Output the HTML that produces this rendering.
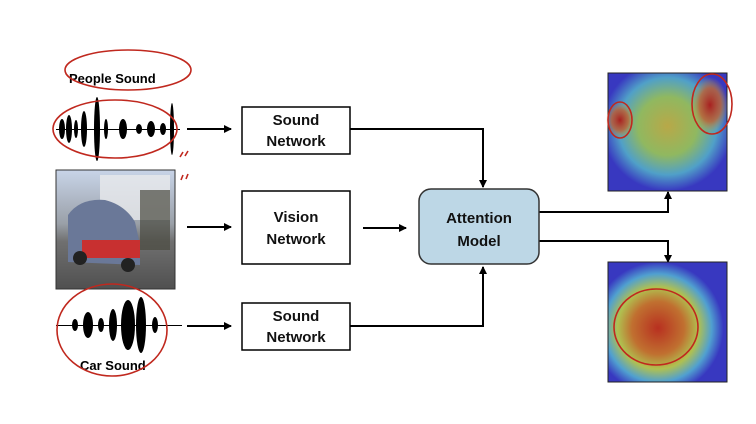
<!DOCTYPE html>
<html><head><meta charset="utf-8"><style>
html,body{margin:0;padding:0;background:#fff;}
svg{display:block;font-family:"Liberation Sans",sans-serif;}
</style></head><body>
<svg width="756" height="424" viewBox="0 0 756 424" xmlns="http://www.w3.org/2000/svg">
<defs>
<marker id="ah" markerWidth="8" markerHeight="8" refX="7" refY="4" orient="auto" markerUnits="userSpaceOnUse"><path d="M0,0 L8,4 L0,8 z" fill="#000"/></marker>
<radialGradient id="h1a" cx="0.5" cy="0.45" r="0.55"><stop offset="0" stop-color="#b8a848"/><stop offset="0.45" stop-color="#90b860"/><stop offset="0.75" stop-color="#50a0c8"/><stop offset="1" stop-color="#3838c0"/></radialGradient>
<radialGradient id="hr" cx="0.5" cy="0.5" r="0.5"><stop offset="0" stop-color="#a82020"/><stop offset="0.6" stop-color="#c06030" stop-opacity="0.8"/><stop offset="1" stop-color="#c0a040" stop-opacity="0"/></radialGradient>
<radialGradient id="h2a" cx="0.42" cy="0.55" r="0.55"><stop offset="0" stop-color="#b83020"/><stop offset="0.4" stop-color="#c07030"/><stop offset="0.62" stop-color="#b0c050"/><stop offset="0.82" stop-color="#50a0d0"/><stop offset="1" stop-color="#3838c0"/></radialGradient>
<linearGradient id="ph" x1="0" y1="0" x2="0" y2="1"><stop offset="0" stop-color="#c8d4e8"/><stop offset="0.45" stop-color="#9aa0a8"/><stop offset="0.6" stop-color="#707070"/><stop offset="1" stop-color="#505050"/></linearGradient>
</defs>

<g fill="#000">
<path d="M56,129 L180,129 L180,130 L56,130 z"/>
<ellipse cx="62" cy="129" rx="3" ry="10"/><ellipse cx="69" cy="129" rx="3" ry="14"/><ellipse cx="76" cy="129" rx="2" ry="9"/>
<ellipse cx="84" cy="129" rx="3" ry="18"/><ellipse cx="97" cy="129" rx="3" ry="32"/><ellipse cx="106" cy="129" rx="2" ry="10"/>
<ellipse cx="123" cy="129" rx="4" ry="10"/><ellipse cx="139" cy="129" rx="3" ry="5"/><ellipse cx="151" cy="129" rx="4" ry="8"/>
<ellipse cx="163" cy="129" rx="3" ry="6"/><ellipse cx="172" cy="129" rx="2" ry="26"/>
</g>
<g fill="#000">
<path d="M56,325 L182,325 L182,326 L56,326 z"/>
<ellipse cx="75" cy="325" rx="3" ry="6"/><ellipse cx="88" cy="325" rx="5" ry="13"/><ellipse cx="101" cy="325" rx="3" ry="7"/>
<ellipse cx="113" cy="325" rx="4" ry="16"/><ellipse cx="128" cy="325" rx="7" ry="25"/><ellipse cx="141" cy="325" rx="5" ry="28"/>
<ellipse cx="155" cy="325" rx="3" ry="8"/>
</g>
<text x="69" y="83" font-size="13" font-weight="bold">People Sound</text>
<text x="80" y="370" font-size="13" font-weight="bold">Car Sound</text>

<rect x="56" y="170" width="119" height="119" fill="url(#ph)" stroke="#333"/>
<rect x="100" y="175" width="70" height="45" fill="#e8eaec" opacity="0.8"/>
<rect x="140" y="190" width="30" height="60" fill="#4a4a40" opacity="0.7"/>
<path d="M68,215 Q80,198 105,200 Q125,205 135,222 L140,245 L140,265 L68,262 z" fill="#6a7898"/>
<rect x="82" y="240" width="58" height="18" fill="#c83030"/>
<circle cx="80" cy="258" r="7" fill="#222"/><circle cx="128" cy="265" r="7" fill="#222"/>

<g fill="none" stroke="#c0281e" stroke-width="1.6">
<ellipse cx="128" cy="70" rx="63" ry="20"/>
<ellipse cx="115" cy="129" rx="62" ry="29"/>
<ellipse cx="112" cy="330" rx="55" ry="46"/>
<path d="M183,152 l-3,5 M188,151 l-3,5 M183,175 l-2,5 M188,174 l-2,5"/>
</g>

<g stroke="#000" stroke-width="2" fill="none" marker-end="url(#ah)">
<line x1="187" y1="129" x2="231" y2="129"/>
<line x1="187" y1="227" x2="231" y2="227"/>
<line x1="187" y1="326" x2="231" y2="326"/>
<line x1="363" y1="228" x2="406" y2="228"/>
<polyline points="350,129 483,129 483,187"/>
<polyline points="350,326 483,326 483,267"/>
<polyline points="539,212 668,212 668,192"/>
<polyline points="539,241 668,241 668,262"/>
</g>

<g stroke="#000" stroke-width="1.5" fill="#fff">
<rect x="242" y="107" width="108" height="47"/>
<rect x="242" y="191" width="108" height="73"/>
<rect x="242" y="303" width="108" height="47"/>
</g>
<rect x="419" y="189" width="120" height="75" rx="12" fill="#bdd7e6" stroke="#333" stroke-width="1.5"/>
<g font-size="15" font-weight="bold" text-anchor="middle" fill="#111">
<text x="296" y="125">Sound</text><text x="296" y="146">Network</text>
<text x="296" y="222">Vision</text><text x="296" y="244">Network</text>
<text x="296" y="321">Sound</text><text x="296" y="342">Network</text>
<text x="479" y="223">Attention</text><text x="479" y="246">Model</text>
</g>

<rect x="608" y="73" width="119" height="118" fill="url(#h1a)" stroke="#222"/>
<ellipse cx="620" cy="120" rx="14" ry="18" fill="url(#hr)"/>
<ellipse cx="710" cy="105" rx="18" ry="28" fill="url(#hr)"/>
<rect x="608" y="262" width="119" height="120" fill="url(#h2a)" stroke="#222"/>
<g fill="none" stroke="#c0281e" stroke-width="1.6">
<ellipse cx="620" cy="120" rx="12" ry="18"/>
<ellipse cx="712" cy="104" rx="20" ry="30"/>
<ellipse cx="656" cy="327" rx="42" ry="38"/>
</g>
</svg>
</body></html>
